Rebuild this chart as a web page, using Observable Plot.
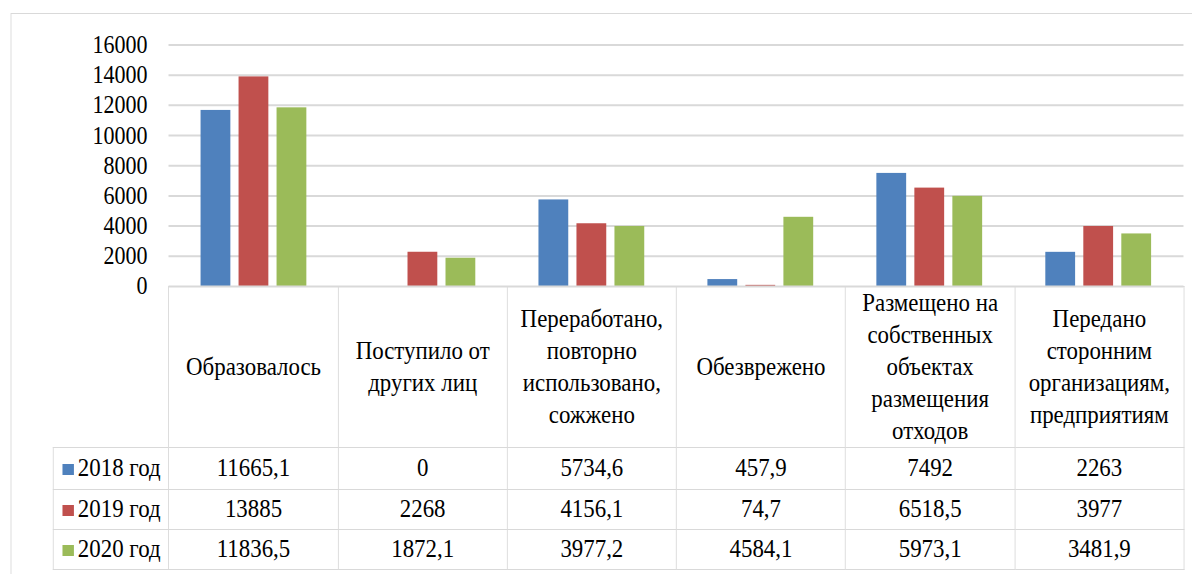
<!DOCTYPE html>
<html>
<head>
<meta charset="utf-8">
<script src="https://cdn.jsdelivr.net/npm/d3@7"></script>
<script src="https://cdn.jsdelivr.net/npm/@observablehq/plot@0.6"></script>
<style>
  html, body { margin: 0; padding: 0; background: #fff; overflow: hidden; }
  #wrap { position: absolute; left: 0; top: 0; height: 574px; transform-origin: 0 0; }
  #frame { position: absolute; border: 1.5px solid #d9d9d9; box-sizing: border-box; }
  #chart { position: absolute; left: 0; top: 0; }
  #chart text { font-family: "Liberation Serif", "Times New Roman", serif; }
  #tbl { position: absolute; border-collapse: collapse; table-layout: fixed;
         font-family: "Liberation Serif", "Times New Roman", serif; font-size: 26px; color: #000; }
  #tbl td { border: 1.5px solid #d9d9d9; text-align: center; vertical-align: middle; padding: 0; white-space: pre-line; }
  #tbl td.blank { border-style: none; border-right: 1.5px solid #d9d9d9; }
  #tbl td.head { line-height: 32px; }
  #tbl td.leg { text-align: left; white-space: nowrap; }
  .sw { display: inline-block; height: 11px; vertical-align: 1px; }
</style>
</head>
<body>
<div id="wrap"></div>
<script>
// ---- data ----
const categories = [
  "Образовалось",
  "Поступило от\nдругих лиц",
  "Переработано,\nповторно\nиспользовано,\nсожжено",
  "Обезврежено",
  "Размещено на\nсобственных\nобъектах\nразмещения\nотходов",
  "Передано\nсторонним\nорганизациям,\nпредприятиям"
];
const years = ["2018 год", "2019 год", "2020 год"];
const values2018 = [11665.1, 0, 5734.6, 457.9, 7492, 2263];
const values2019 = [13885, 2268, 4156.1, 74.7, 6518.5, 3977];
const values2020 = [11836.5, 1872.1, 3977.2, 4584.1, 5973.1, 3481.9];
const yTicks = [0, 2000, 4000, 6000, 8000, 10000, 12000, 14000, 16000];
const colors = ["#4F81BD", "#C0504D", "#9BBB59"];

// ---- layout (horizontal compression of the original picture) ----
const S = 0.88;
const W = 1192 / S;
const plotLeft = 168.5 / S;
const plotRight = (1192 - 1183.5) / S;
const band = (W - plotLeft - plotRight) / categories.length;
const barW = 30 / S;
const step = 38 / S;
const inset = (band - barW) / 2;

const wrap = document.getElementById("wrap");
wrap.style.width = W + "px";
wrap.style.transform = `scaleX(${S})`;

const frame = document.createElement("div");
frame.id = "frame";
frame.style.left = (10.5 / S) + "px";
frame.style.top = "12.5px";
frame.style.width = (1200 / S) + "px";
frame.style.height = "600px";
wrap.appendChild(frame);

const series = [values2018, values2019, values2020];
const rowsBy = series.map(vals => categories.map((c, i) => ({category: c, value: vals[i]})));

const chart = Plot.plot({
  width: W,
  height: 287,
  marginLeft: plotLeft,
  marginRight: plotRight,
  marginTop: 44.5,
  marginBottom: 1,
  style: {background: "transparent", fontFamily: "\"Liberation Serif\", \"Times New Roman\", serif", fontSize: "25px", color: "#000", overflow: "visible"},
  x: {domain: categories, padding: 0, axis: null},
  y: {domain: [0, 16000], ticks: yTicks, tickSize: 0, tickPadding: 24.4, tickFormat: d => String(d), label: null},
  marks: [
    Plot.ruleY(yTicks.slice(1), {stroke: "#d9d9d9", strokeWidth: 2}),
    ...rowsBy.map((rows, k) => Plot.barY(rows, {
      x: "category", y: "value", fill: colors[k],
      insetLeft: inset, insetRight: inset, dx: (k - 1) * step
    })),
    Plot.ruleY([0], {stroke: "#d9d9d9", strokeWidth: 2})
  ]
});
chart.id = "chart";
wrap.appendChild(chart);

// ---- data table under the axis ----
const xs = d3.scaleBand().domain(categories).range([plotLeft, W - plotRight]).padding(0);
const legLeft = 53 / S;
const tbl = document.createElement("table");
tbl.id = "tbl";
tbl.style.left = legLeft + "px";
tbl.style.top = "285.5px";
tbl.style.width = (W - plotRight - legLeft) + "px";
const cg = document.createElement("colgroup");
const c0 = document.createElement("col"); c0.style.width = (plotLeft - legLeft) + "px"; cg.appendChild(c0);
categories.forEach(() => { const c = document.createElement("col"); c.style.width = xs.bandwidth() + "px"; cg.appendChild(c); });
tbl.appendChild(cg);

const fmt = v => String(v).replace(".", ",");
const head = document.createElement("tr");
head.style.height = "159.5px";
const b = document.createElement("td"); b.className = "blank"; head.appendChild(b);
categories.forEach(c => { const td = document.createElement("td"); td.className = "head"; td.textContent = c; head.appendChild(td); });
tbl.appendChild(head);
const rowH = [42, 40, 40];
years.forEach((y, k) => {
  const tr = document.createElement("tr");
  tr.style.height = rowH[k] + "px";
  const lg = document.createElement("td");
  lg.className = "leg";
  lg.innerHTML = `<span class="sw" style="background:${colors[k]};width:${11 / S}px;margin-left:${9 / S}px;margin-right:${4 / S}px"></span>${y}`;
  tr.appendChild(lg);
  series[k].forEach(v => { const td = document.createElement("td"); td.textContent = fmt(v); tr.appendChild(td); });
  tbl.appendChild(tr);
});
wrap.appendChild(tbl);
</script>
</body>
</html>
